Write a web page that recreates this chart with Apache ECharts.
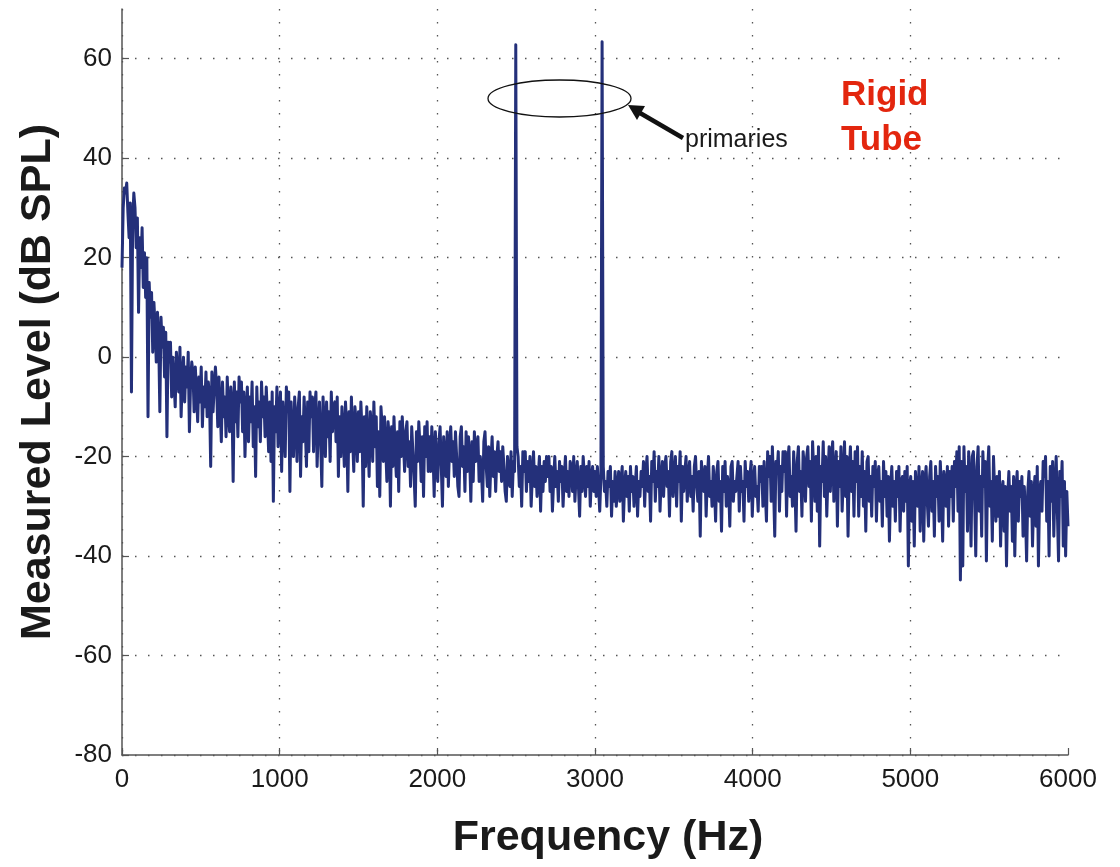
<!DOCTYPE html>
<html>
<head>
<meta charset="utf-8">
<style>
  html, body { margin: 0; padding: 0; background: #ffffff; }
  #chart { width: 1120px; height: 867px; }
</style>
<script src="https://cdn.jsdelivr.net/npm/echarts@6/dist/echarts.min.js"></script>
</head>
<body>
<div id="chart"></div>
<script>
// Sample spacing of the measured spectrum (Hz)
const freqStep = 7.5;
// Measured level (dB SPL), one value per freqStep, 0 .. 6000 Hz (20 values = 150 Hz per row)
const levels = [
  18,30,34,33,35,29,24,31,-7,27,33,30,22,28,9,24,18,26,14,21,
  12,20,-12,15,8,13,1,11,6,-1,9,4,-11,8,2,6,-4,5,-16,3,
  -1,3,-8,0,-5,-10,1,-3,-7,2,-12,-4,0,-9,-2,-6,1,-15,-5,-1,
  -3,-11,-2,-7,-13,-4,-9,-2,-14,-6,-10,-3,-12,-5,-8,-22,-3,-11,-6,-2,
  -6,-14,-4,-10,-17,-5,-12,-8,-16,-4,-11,-15,-6,-9,-25,-5,-13,-7,-16,-4,
  -9,-5,-15,-7,-20,-11,-6,-17,-8,-13,-5,-18,-10,-24,-6,-14,-9,-17,-5,-12,
  -8,-16,-6,-12,-19,-9,-21,-7,-29,-10,-15,-6,-18,-11,-7,-23,-9,-14,-20,-6,
  -11,-7,-27,-9,-16,-20,-8,-13,-21,-10,-7,-24,-12,-17,-8,-14,-22,-9,-19,-7,
  -12,-8,-19,-10,-7,-22,-14,-9,-17,-26,-8,-13,-20,-9,-16,-11,-21,-7,-15,-10,
  -9,-17,-8,-24,-12,-20,-10,-15,-22,-9,-14,-27,-11,-19,-8,-16,-23,-10,-13,-21,
  -11,-19,-9,-15,-30,-12,-22,-10,-17,-24,-11,-14,-21,-9,-18,-12,-26,-15,-28,-10,
  -14,-21,-12,-18,-25,-13,-16,-30,-14,-22,-12,-19,-24,-15,-27,-13,-20,-12,-17,-23,
  -15,-13,-22,-17,-26,-14,-19,-24,-30,-15,-21,-13,-18,-25,-16,-28,-14,-20,-13,-23,
  -16,-23,-14,-19,-28,-15,-21,-25,-17,-14,-22,-30,-16,-20,-24,-15,-26,-18,-14,-21,
  -17,-24,-15,-20,-26,-28,-16,-14,-22,-18,-27,-15,-23,-16,-20,-29,-17,-25,-15,-21,
  -18,-16,-25,-20,-23,-29,-17,-15,-22,-26,-18,-28,-21,-16,-24,-19,-27,-20,-17,-23,
  -19,-25,-18,-22,-27,-29,-20,-24,-26,-19,-28,-21,-23,62.8,-18,-20,-26,-22,-30,-19,
  -23,-19,-27,-21,-25,-20,-30,-24,-19,-26,-22,-28,-24,-20,-31,-22,-27,-21,-25,-20,
  -24,-20,-27,-22,-31,-25,-20,-26,-23,-29,-21,-25,-22,-30,-24,-20,-27,-23,-28,-21,
  -22,-27,-20,-29,-24,-21,-26,-32,-22,-27,-20,-24,-28,-22,-26,-21,-30,-24,-22,-27,
  -23,-28,-22,-26,-31,-24,63.4,-22,-27,-25,-30,-23,-26,-22,-32,-25,-29,-23,-30,-26,
  -23,-29,-25,-22,-33,-26,-23,-28,-24,-31,-22,-27,-24,-30,-26,-22,-32,-25,-28,-23,
  -26,-21,-30,-23,-20,-27,-24,-33,-21,-25,-19,-29,-23,-26,-20,-31,-24,-21,-28,-22,
  -20,-26,-23,-32,-21,-19,-28,-24,-20,-30,-22,-25,-19,-33,-22,-27,-23,-20,-29,-24,
  -21,-28,-24,-31,-22,-20,-26,-29,-23,-36,-21,-25,-27,-22,-32,-24,-20,-28,-25,-30,
  -22,-26,-33,-23,-21,-29,-25,-35,-22,-27,-21,-30,-24,-26,-34,-22,-21,-29,-25,-27,
  -24,-21,-31,-22,-27,-25,-33,-21,-26,-23,-29,-24,-21,-32,-25,-22,-28,-26,-31,-22,
  -25,-22,-30,-21,-27,-33,-19,-24,-20,-29,-18,-26,-36,-21,-23,-19,-31,-22,-27,-19,
  -23,-19,-32,-21,-18,-28,-24,-30,-19,-25,-35,-21,-18,-27,-23,-32,-19,-22,-29,-20,
  -18,-26,-21,-33,-17,-23,-29,-20,-31,-18,-38,-22,-25,-17,-28,-20,-32,-24,-18,-27,
  -20,-17,-29,-23,-19,-34,-21,-26,-18,-31,-24,-17,-28,-20,-36,-23,-18,-27,-21,-32,
  -19,-25,-18,-32,-22,-28,-19,-30,-23,-35,-21,-20,-29,-24,-32,-22,-26,-21,-33,-24,
  -22,-29,-25,-34,-21,-28,-23,-32,-24,-37,-26,-22,-30,-25,-33,-23,-28,-22,-35,-25,
  -24,-31,-23,-29,-22,-42,-26,-24,-33,-25,-38,-23,-28,-30,-22,-35,-26,-23,-37,-25,
  -22,-29,-34,-24,-21,-31,-25,-36,-22,-28,-24,-33,-21,-27,-37,-23,-25,-30,-22,-34,
  -23,-28,-22,-33,-21,-26,-19,-31,-18,-44.8,-21,-42,-18,-27,-22,-35,-19,-25,-38,-20,
  -19,-28,-40,-22,-18,-31,-24,-36,-19,-26,-21,-41,-23,-18,-30,-25,-37,-20,-27,-33,
  -24,-32,-23,-38,-27,-25,-35,-26,-42,-28,-23,-31,-26,-37,-24,-40,-27,-23,-33,-25,
  -28,-24,-36,-26,-31,-41,-27,-23,-32,-25,-38,-28,-24,-34,-22,-42,-27,-25,-31,-21,
  -24,-20,-33,-25,-40,-22,-29,-21,-36,-26,-20,-31,-41,-23,-28,-21,-38,-25,-40,-27,
  -34
];
// Axis ticks
const xTicks = [0, 1000, 2000, 3000, 4000, 5000, 6000];
const yTicks = [-80, -60, -40, -20, 0, 20, 40, 60];
const yMax = 70;

const seriesData = levels.map((v, i) => [i * freqStep, v]);

const chart = echarts.init(document.getElementById('chart'), null, { renderer: 'canvas' });

const gridLine = { show: true, showMaxLine: false, lineStyle: { color: '#555', width: 1.3, type: [1.5, 11.5] } };
const font = '"Liberation Sans", Arial, Helvetica, sans-serif';

chart.setOption({
  animation: false,
  backgroundColor: '#ffffff',
  grid: { left: 122, right: 52, top: 9, bottom: 112, containLabel: false, outerBoundsMode: 'none' },
  xAxis: {
    type: 'value',
    min: xTicks[0],
    max: xTicks[xTicks.length - 1],
    interval: 1000,
    name: 'Frequency (Hz)',
    nameLocation: 'middle',
    nameGap: 62,
    nameTextStyle: { fontFamily: font, fontWeight: 'bold', fontSize: 43, color: '#1a1a1a', padding: [0, 0, 0, 26] },
    axisLine: { show: true, onZero: false, lineStyle: { color: '#555', width: 1.5 } },
    axisTick: { show: true, inside: true, length: 7, lineStyle: { color: '#555', width: 1.2 } },
    axisLabel: { fontFamily: font, fontSize: 26, color: '#1a1a1a', margin: 12, formatter: (v) => String(v) },
    splitLine: gridLine
  },
  yAxis: {
    type: 'value',
    min: yTicks[0],
    max: yMax,
    interval: 20,
    name: 'Measured Level (dB SPL)',
    nameLocation: 'middle',
    nameGap: 62,
    nameTextStyle: { fontFamily: font, fontWeight: 'bold', fontSize: 43, color: '#1a1a1a' },
    axisLine: { show: true, onZero: false, lineStyle: { color: '#555', width: 1.5 } },
    axisTick: { show: true, inside: true, length: 7, lineStyle: { color: '#555', width: 1.2 } },
    axisLabel: { fontFamily: font, fontSize: 26, color: '#1a1a1a', margin: 10, showMaxLabel: false, formatter: (v) => String(v) },
    splitLine: gridLine
  },
  series: [{
    type: 'line',
    data: seriesData,
    showSymbol: false,
    symbol: 'none',
    lineStyle: { color: '#24307a', width: 3, join: 'round' },
    z: 3
  }],
  graphic: [
    { type: 'ellipse', shape: { cx: 559.5, cy: 98.5, rx: 71.5, ry: 18.5 },
      style: { fill: 'none', stroke: '#111', lineWidth: 1.3 }, z: 10 },
    { type: 'line', shape: { x1: 683, y1: 138, x2: 640, y2: 113 },
      style: { stroke: '#111', lineWidth: 4.5 }, z: 10 },
    { type: 'polygon', shape: { points: [[628, 105], [645, 106], [637, 120]] },
      style: { fill: '#111' }, z: 10 },
    { type: 'text', left: 685, top: 128,
      style: { text: 'primaries', font: '25px "Liberation Sans", Arial, sans-serif', fill: '#1a1a1a' }, z: 10 },
    { type: 'text', left: 841, top: 73,
      style: { text: 'Rigid\nTube', font: 'bold 35px "Liberation Sans", Arial, sans-serif', fill: '#e3260e', lineHeight: 45 }, z: 10 }
  ]
});
</script>
</body>
</html>
